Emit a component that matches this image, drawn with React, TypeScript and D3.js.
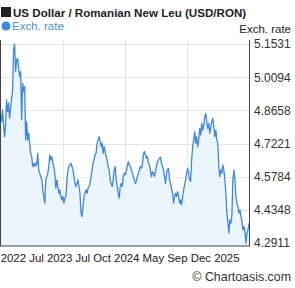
import React, { useRef, useEffect } from 'react';
import * as d3 from 'd3';

// USD/RON daily rate in consecutive chunks
const ratesPart1 = [
  4.846, 4.817, 4.868, 4.810, 4.752, 4.796, 4.911, 4.861, 4.897, 4.832,
  4.875, 4.918, 4.954, 5.128, 5.153, 5.034, 5.084, 5.091, 5.055, 5.012,
  5.034, 4.825, 4.983, 4.947, 4.969, 4.738, 4.817, 4.738, 4.767, 4.724,
  4.680, 4.666, 4.623, 4.637, 4.623, 4.637, 4.630, 4.680, 4.608, 4.594,
  4.579, 4.565, 4.522, 4.493, 4.464, 4.565, 4.579, 4.594, 4.623,
];
const ratesPart2 = [
  4.673, 4.651, 4.666, 4.637, 4.623, 4.594, 4.529, 4.565, 4.536, 4.507,
  4.522, 4.493, 4.478, 4.493, 4.464, 4.486, 4.493, 4.565, 4.608, 4.623,
  4.630, 4.637, 4.623, 4.608, 4.579, 4.550, 4.536, 4.550, 4.565, 4.536,
  4.507, 4.421, 4.406, 4.449, 4.493, 4.507, 4.522, 4.507, 4.529, 4.536,
  4.550, 4.579, 4.608, 4.637, 4.651, 4.673, 4.680, 4.724, 4.738, 4.752,
];
const ratesPart3 = [
  4.731, 4.709, 4.724, 4.680, 4.709, 4.688, 4.666, 4.651, 4.623, 4.608,
  4.565, 4.550, 4.536, 4.565, 4.608, 4.623, 4.565, 4.536, 4.507, 4.486,
  4.536, 4.550, 4.536, 4.579, 4.594, 4.587, 4.601, 4.623, 4.644, 4.630,
  4.623, 4.608, 4.594, 4.579, 4.565, 4.550, 4.558, 4.579, 4.594, 4.608,
  4.623, 4.615, 4.630, 4.673, 4.688, 4.673, 4.659, 4.666, 4.637,
];
const ratesPart4 = [
  4.630, 4.608, 4.579, 4.601, 4.594, 4.579, 4.601, 4.623, 4.644, 4.651,
  4.659, 4.663, 4.637, 4.623, 4.608, 4.579, 4.550, 4.594, 4.608, 4.615,
  4.565, 4.550, 4.529, 4.507, 4.464, 4.493, 4.507, 4.493, 4.514, 4.493,
  4.464, 4.478, 4.457, 4.493, 4.522, 4.543, 4.565, 4.594, 4.615, 4.594,
  4.565, 4.558, 4.651, 4.709, 4.738, 4.774, 4.724, 4.752, 4.709, 4.738,
];
const ratesPart5 = [
  4.788, 4.760, 4.810, 4.781, 4.803, 4.839, 4.853, 4.817, 4.788, 4.810,
  4.767, 4.796, 4.817, 4.832, 4.796, 4.752, 4.781, 4.738, 4.724, 4.623,
  4.579, 4.608, 4.594, 4.630, 4.608, 4.565, 4.507, 4.421, 4.384, 4.334,
  4.392, 4.377, 4.413, 4.565, 4.608, 4.565, 4.493, 4.464, 4.449, 4.421,
  4.435, 4.406, 4.384, 4.348, 4.363, 4.341, 4.291, 4.334, 4.348, 4.377,
];

const yTickValues = [4.2911, 4.4348, 4.5784, 4.7221, 4.8658, 5.0094, 5.1531];
const xTickLabels = ['2022', 'Jul', '2023', 'Jul', 'Oct', '2024', 'May', 'Sep', 'Dec', '2025'];

const title = 'US Dollar / Romanian New Leu (USD/RON)';
const seriesName = 'Exch. rate';

const W = 295;
const H = 288;
const FONT = '"Liberation Sans", Arial, sans-serif';

const RateChart: React.FC = () => {
  const ref = useRef<SVGSVGElement | null>(null);

  useEffect(() => {
    if (!ref.current) return;
    const svg = d3.select(ref.current);
    svg.selectAll('*').remove();

    const rates = [...ratesPart1, ...ratesPart2, ...ratesPart3, ...ratesPart4, ...ratesPart5];
    const plot = { left: 0.5, right: 249.5, top: 40, bottom: 246 };

    const x = d3.scaleLinear().domain([0, rates.length - 1]).range([plot.left, plot.right - 0.5]);
    const y = d3.scaleLinear().domain([4.2911, 5.1531]).range([243.1, 44.1]);

    // grid
    const grid = svg.append('g').attr('stroke', '#e6e6e6').attr('stroke-width', 1);
    grid.selectAll('line.h')
      .data(yTickValues)
      .enter().append('line')
      .attr('x1', plot.left).attr('x2', plot.right)
      .attr('y1', d => Math.round(y(d)) + 0.5).attr('y2', d => Math.round(y(d)) + 0.5);
    grid.selectAll('line.v')
      .data([0.25, 0.5, 0.75])
      .enter().append('line')
      .attr('x1', d => Math.round(x(d * (rates.length - 1))) + 0.5)
      .attr('x2', d => Math.round(x(d * (rates.length - 1))) + 0.5)
      .attr('y1', plot.top).attr('y2', plot.bottom);

    // area + line
    const area = d3.area<number>()
      .x((_, i) => x(i))
      .y0(plot.bottom)
      .y1(d => y(d));
    const line = d3.line<number>()
      .x((_, i) => x(i))
      .y(d => y(d));

    svg.append('path').datum(rates).attr('d', area).attr('fill', '#ebf5fe');
    svg.append('path').datum(rates).attr('d', line)
      .attr('fill', 'none').attr('stroke', '#3b88e1').attr('stroke-width', 1.3)
      .attr('stroke-linejoin', 'round');

    // frame
    svg.append('line').attr('x1', 0.5).attr('x2', 0.5).attr('y1', plot.top).attr('y2', plot.bottom)
      .attr('stroke', '#444');
    svg.append('line').attr('x1', 0).attr('x2', plot.right).attr('y1', plot.bottom).attr('y2', plot.bottom)
      .attr('stroke', '#444');
    svg.append('line').attr('x1', plot.right).attr('x2', plot.right).attr('y1', plot.top).attr('y2', plot.bottom + 0.5)
      .attr('stroke', '#444');

    // y axis labels
    svg.append('g')
      .selectAll('text')
      .data(yTickValues)
      .enter().append('text')
      .attr('x', 254)
      .attr('y', d => y(d) + 4.3)
      .attr('font-family', FONT).attr('font-size', 12).attr('fill', '#333')
      .text(d => d.toFixed(4));

    // x axis labels (laid out as one flowing line, as in the source)
    const xl = svg.append('text')
      .attr('x', 0.7).attr('y', 262)
      .attr('font-family', FONT).attr('font-size', 11.4).attr('fill', '#222');
    xl.selectAll('tspan')
      .data(xTickLabels)
      .enter().append('tspan')
      .text((d, i) => (i > 0 ? ' ' : '') + d);

    // title + legend
    svg.append('rect').attr('x', 1).attr('y', 7).attr('width', 10).attr('height', 10).attr('fill', '#222');
    svg.append('text').attr('x', 13).attr('y', 17)
      .attr('font-family', FONT).attr('font-size', 11.6).attr('font-weight', 'bold').attr('fill', '#222')
      .text(title);
    svg.append('circle').attr('cx', 6).attr('cy', 26).attr('r', 4.5).attr('fill', '#3b88e1');
    svg.append('text').attr('x', 12).attr('y', 30)
      .attr('font-family', FONT).attr('font-size', 11.5).attr('fill', '#4a90e2')
      .text(seriesName);
    svg.append('text').attr('x', 291).attr('y', 32.5).attr('text-anchor', 'end')
      .attr('font-family', FONT).attr('font-size', 11.5).attr('fill', '#222')
      .text(seriesName);

    svg.append('text').attr('x', 291).attr('y', 280.5).attr('text-anchor', 'end')
      .attr('font-family', FONT).attr('font-size', 12.4).attr('fill', '#333')
      .text('© Chartoasis.com');
  }, []);

  return (
    <svg
      ref={ref}
      width={W}
      height={H}
      style={{ position: 'absolute', left: 0, top: 0, display: 'block', background: '#fff' }}
    />
  );
};

export default function App() {
  return <RateChart />;
}
